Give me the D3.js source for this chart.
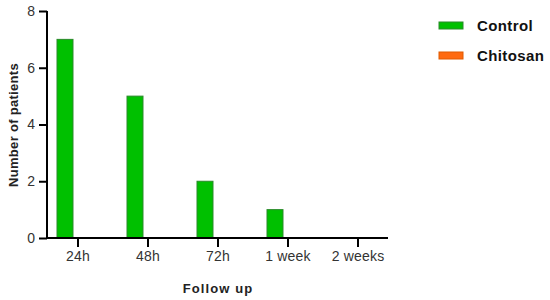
<!DOCTYPE html>
<html>
<head>
<meta charset="utf-8">
<script src="https://cdn.jsdelivr.net/npm/d3@7"></script>
<style>
  body { margin: 0; background: #fff; }
  text { font-family: "Liberation Sans", Arial, sans-serif; }
</style>
</head>
<body>
<svg id="chart" width="550" height="300"></svg>
<script>
const categories = ["24h", "48h", "72h", "1 week", "2 weeks"];
const seriesNames = ["Control", "Chitosan"];
const controlValues = [7, 5, 2, 1, 0];
const chitosanValues = [0, 0, 0, 0, 0];
const yTicks = [0, 2, 4, 6, 8];
const colors = { "Control": "#00c000", "Chitosan": "#ff6a10" };
const strokes = { "Control": "#2a8a2a", "Chitosan": "#e05a00" };

const svg = d3.select("#chart");

// group centres about 70px apart, first at ~78
const x0 = d3.scaleBand()
  .domain(categories)
  .range([43, 393])
  .paddingInner(0.4)
  .paddingOuter(0.2);

const x1 = d3.scaleBand()
  .domain(seriesNames)
  .range([0, x0.bandwidth()])
  .paddingInner(0.385);

const y = d3.scaleLinear()
  .domain([0, 8])
  .range([238, 11]);

const rows = categories.map((c, i) => ({
  cat: c,
  vals: [
    { name: "Control", v: controlValues[i] },
    { name: "Chitosan", v: chitosanValues[i] }
  ]
}));

// bars
svg.append("g")
  .selectAll("g")
  .data(rows)
  .enter()
  .append("g")
  .attr("transform", d => "translate(" + x0(d.cat) + ",0)")
  .selectAll("rect")
  .data(d => d.vals.filter(e => e.v > 0))
  .enter()
  .append("rect")
  .attr("x", d => x1(d.name))
  .attr("y", d => y(d.v))
  .attr("width", x1.bandwidth())
  .attr("height", d => y(0) - y(d.v))
  .attr("fill", d => colors[d.name])
  .attr("stroke", d => strokes[d.name])
  .attr("stroke-width", 1);

// y axis
const yAxis = svg.append("g")
  .attr("transform", "translate(47,0)")
  .call(d3.axisLeft(y).tickValues(yTicks).tickSize(8).tickPadding(4).tickSizeOuter(0));
yAxis.select(".domain").attr("stroke", "#000").attr("stroke-width", 2)
  .attr("d", "M0," + (y(8)) + "V" + (y(0) + 1));
yAxis.selectAll(".tick line").attr("stroke", "#000").attr("stroke-width", 2);
yAxis.selectAll(".tick text").attr("font-size", 14).attr("fill", "#333")
  .attr("font-family", "Liberation Sans, Arial, sans-serif");

// x axis
const xAxis = svg.append("g")
  .attr("transform", "translate(0," + y(0) + ")")
  .call(d3.axisBottom(x0).tickSize(9).tickPadding(4).tickSizeOuter(0));
xAxis.select(".domain").attr("stroke", "#000").attr("stroke-width", 2)
  .attr("d", "M46,0H388");
xAxis.selectAll(".tick line").attr("stroke", "#000").attr("stroke-width", 2);
xAxis.selectAll(".tick text").attr("font-size", 14).attr("fill", "#333")
  .attr("letter-spacing", 0.2)
  .attr("font-family", "Liberation Sans, Arial, sans-serif");

// axis titles
svg.append("text")
  .attr("transform", "translate(18,125) rotate(-90)")
  .attr("text-anchor", "middle")
  .attr("font-size", 13)
  .attr("font-weight", "bold")
  .attr("letter-spacing", 0.3)
  .attr("fill", "#222")
  .text("Number of patients");

svg.append("text")
  .attr("x", 218)
  .attr("y", 293)
  .attr("text-anchor", "middle")
  .attr("font-size", 13)
  .attr("font-weight", "bold")
  .attr("letter-spacing", 1.1)
  .attr("fill", "#222")
  .text("Follow up");

// legend
const legend = svg.append("g")
  .selectAll("g")
  .data(seriesNames)
  .enter()
  .append("g")
  .attr("transform", (d, i) => "translate(439," + (22 + i * 30) + ")");
legend.append("rect")
  .attr("width", 24)
  .attr("height", 7)
  .attr("fill", d => colors[d])
  .attr("stroke", d => strokes[d])
  .attr("stroke-width", 1);
legend.append("text")
  .attr("x", 38)
  .attr("y", 9)
  .attr("font-size", 15)
  .attr("font-weight", "bold")
  .attr("letter-spacing", 0.4)
  .attr("fill", "#111")
  .text(d => d);
</script>
</body>
</html>
